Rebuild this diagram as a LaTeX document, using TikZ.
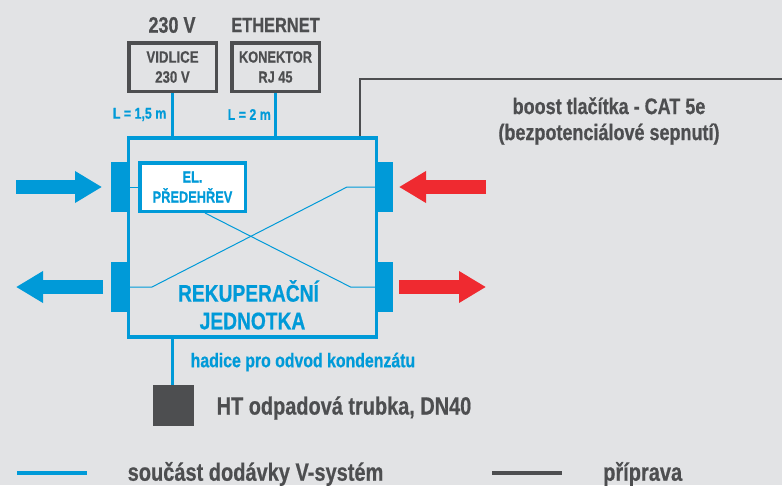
\documentclass[tikz,border=0pt]{standalone}
\usepackage{fontspec}
\setmainfont{Liberation Sans}[FakeStretch=0.8, BoldFeatures={FakeBold=0.6}]
\usetikzlibrary{arrows.meta}
\definecolor{vblue}{HTML}{009AD8}
\definecolor{vgray}{HTML}{4D4E50}
\definecolor{vred}{HTML}{EF2A30}
\definecolor{vback}{HTML}{E2E3E5}
\tikzset{
    every label text/.style={font=\bfseries, align=center, inner sep=0pt},
    gray text/.style={every label text, text=vgray},
    blue text/.style={every label text, text=vblue},
    plug box/.style={draw=vgray, line width=3.5pt, fill=vback, minimum width=87.5pt, minimum height=48.5pt, inner sep=0pt},
    port/.style={fill=vblue, minimum width=17pt, minimum height=50pt, inner sep=0pt},
    flow/.style={line width=14pt, -{Triangle[length=27pt, width=30pt]}},
    blue line/.style={draw=vblue, line width=3.5pt},
    thin line/.style={draw=vblue, line width=1pt}
}
\begin{document}
\begin{tikzpicture}[x=1pt, y=-1pt]
            
            \useasboundingbox [fill=vback] (0,0) rectangle (782,485);
            
            % unit
            \node [draw=vblue, line width=3.5pt, minimum width=248pt, minimum height=199pt, inner sep=0pt] (unit) at (252.5,237.5) {};
            
            % ports
            \foreach \m/\x/\y in {a/119.5/187,b/119.5/287,c/384.5/187,d/384.5/287}
            \node [port] (port-\m) at (\x,\y) {};
            
            % plugs
            \node [plug box, gray text, font=\bfseries\fontsize{16.5}{20}\selectfont] (vidlice) at (172.5,67) {VIDLICE\\230 V};
            \node [plug box, gray text, font=\bfseries\fontsize{16}{20}\selectfont] (konektor) at (275.5,67) {KONEKTOR\\RJ 45};
            \node [gray text, font=\bfseries\fontsize{22.5}{24}\selectfont] (t230) at (172,25) {230 V};
            \node [gray text, font=\bfseries\fontsize{20.5}{24}\selectfont] (teth) at (275.5,25) {ETHERNET};
            
            \draw [blue line] (vidlice) -- (vidlice |- unit.north);
            \draw [blue line] (konektor) -- (konektor |- unit.north);
            \node [blue text, font=\bfseries\fontsize{15.5}{16}\selectfont, left] (l1) at (166.5,114.5) {L = 1,5 m};
            \node [blue text, font=\bfseries\fontsize{15.5}{16}\selectfont, left] (l2) at (271,114.5) {L = 2 m};
            
            % boost cable
            \coordinate (boost-a) at (359.5,79);
            \coordinate (boost-b) at (782,79);
            \draw [draw=vgray, line width=2pt] (boost-b) -- (boost-a) -- (boost-a |- unit.north);
            \node [gray text, font=\bfseries\fontsize{22.5}{26}\selectfont] (boost) at (609,121) {boost tlačítka - CAT 5e\\(bezpotenciálové sepnutí)};
            
            % heater and inner lines
            \node [draw=vblue, line width=3.5pt, fill=white, blue text, font=\bfseries\fontsize{16}{20}\selectfont, minimum width=105.5pt, minimum height=48.5pt] (heater) at (192.5,187) {EL.\\PŘEDEHŘEV};
            \coordinate (bend-a) at (350.5,287);
            \coordinate (bend-b) at (152,287);
            \coordinate (bend-c) at (347,187);
            \draw [thin line] (port-a.east) -- (heater.west);
            \draw [thin line] (heater.south -| 205,0) -- (bend-a) -- (port-d.west);
            \draw [thin line] (port-b.east) -- (bend-b) -- (bend-c) -- (port-c.west);
            \node [blue text, font=\bfseries\fontsize{24}{32}\selectfont] (name-1) at (248.5,291) {REKUPERAČNÍ};
            \node [blue text, font=\bfseries\fontsize{24}{32}\selectfont] (name-2) at (252.5,321) {JEDNOTKA};
            
            % flows
            \foreach \a/\b/\c/\y in {16/102/vblue/187,103/16/vblue/287,486/399/vred/187,399/486/vred/287}
            {
            \coordinate (from) at (\a,\y);
            \coordinate (to) at (\b,\y);
            \draw [flow, draw=\c, fill=\c] (from) -- (to);
            }
            
            % drain
            \node [fill=vgray, minimum size=41pt, inner sep=0pt] (trubka) at (173.5,405.5) {};
            \draw [blue line] (unit.south -| 172.5,0) -- (trubka.north -| 172.5,0);
            \node [blue text, font=\bfseries\fontsize{19.8}{20}\selectfont, right] (hadice) at (190.5,362) {hadice pro odvod kondenzátu};
            \node [gray text, font=\bfseries\fontsize{24.9}{24}\selectfont, right] (ht) at (216.5,408) {HT odpadová trubka, DN40};
            
            % legend
            \coordinate (key-a) at (17,473);
            \coordinate (key-b) at (87,473);
            \coordinate (key-c) at (492,473);
            \coordinate (key-d) at (562,473);
            \draw [blue line] (key-a) -- (key-b);
            \draw [draw=vgray, line width=3.5pt] (key-c) -- (key-d);
            \node [gray text, font=\bfseries\fontsize{25}{24}\selectfont, right] (key-1) at (127.5,474) {součást dodávky V-systém};
            \node [gray text, font=\bfseries\fontsize{25}{24}\selectfont, right] (key-2) at (603,474) {příprava};
        \end{tikzpicture}
\end{document}
